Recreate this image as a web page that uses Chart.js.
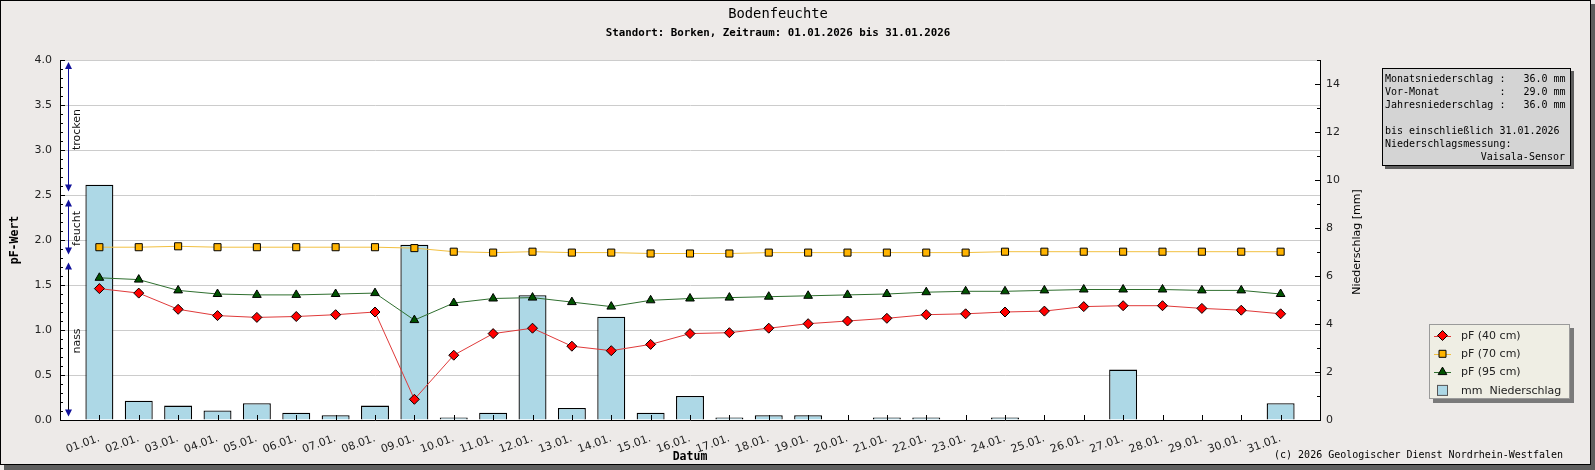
<!DOCTYPE html>
<html><head><meta charset="utf-8">
<script src="https://cdn.jsdelivr.net/npm/chart.js@4.4.1/dist/chart.umd.min.js"></script>
<style>
html,body{margin:0;padding:0;background:#EDEAE8;overflow:hidden}
#wrap{width:1595px;height:470px;position:relative}
</style>
</head><body><div id="wrap"><canvas id="c"></canvas></div>
<script>
// ---- data ----
const days = ['01.01.','02.01.','03.01.','04.01.','05.01.','06.01.','07.01.','08.01.','09.01.','10.01.',
  '11.01.','12.01.','13.01.','14.01.','15.01.','16.01.','17.01.','18.01.','19.01.','20.01.',
  '21.01.','22.01.','23.01.','24.01.','25.01.','26.01.','27.01.','28.01.','29.01.','30.01.','31.01.'];
const niederschlag = [9.8,0.8,0.6,0.4,0.7,0.3,0.2,0.6,7.3,0.1,0.3,5.2,0.5,4.3,0.3,1.0,0.1,0.2,0.2,0.0,
  0.1,0.1,0.0,0.1,0.0,0.0,2.1,0.0,0.0,0.0,0.7];
const pf40 = [1.46,1.41,1.23,1.16,1.14,1.15,1.17,1.20,0.23,0.72,0.96,1.02,0.82,0.77,0.84,0.96,0.97,1.02,1.07,1.10,
  1.13,1.17,1.18,1.20,1.21,1.26,1.27,1.27,1.24,1.22,1.18];
const pf70 = [1.92,1.92,1.93,1.92,1.92,1.92,1.92,1.92,1.91,1.87,1.86,1.87,1.86,1.86,1.85,1.85,1.85,1.86,1.86,1.86,
  1.86,1.86,1.86,1.87,1.87,1.87,1.87,1.87,1.87,1.87,1.87];
const pf95 = [1.58,1.56,1.44,1.40,1.39,1.39,1.40,1.41,1.11,1.30,1.35,1.36,1.31,1.26,1.33,1.35,1.36,1.37,1.38,1.39,
  1.40,1.42,1.43,1.43,1.44,1.45,1.45,1.45,1.44,1.44,1.40];
const seriesLabels = ['pF (40 cm)','pF (70 cm)','pF (95 cm)','mm  Niederschlag'];
const pfTicks = [0,0.5,1,1.5,2,2.5,3,3.5,4];
const mmTicks = [0,2,4,6,8,10,12,14];
const zoneNames = ['nass','feucht','trocken'];
const zoneBounds = [0,1.8,2.5,4.0];
const infoLines = ['Monatsniederschlag :   36.0 mm','Vor-Monat          :   29.0 mm','Jahresniederschlag :   36.0 mm','',
  'bis einschließlich 31.01.2026','Niederschlagsmessung:'];
const infoRight = 'Vaisala-Sensor';
const titleText = 'Bodenfeuchte';
const subtitleText = 'Standort: Borken, Zeitraum: 01.01.2026 bis 31.01.2026';
const copyrightText = '(c) 2026 Geologischer Dienst Nordrhein-Westfalen';

const BG = '#EDEAE8';
const toXY = arr => arr.map((v,i)=>({x:i+1,y:v}));

Chart.defaults.font.family = 'DejaVu Sans';
Chart.defaults.font.size = 11;
Chart.defaults.color = '#222';

function marker(ctx, style, x, y, fill) {
  ctx.save();
  ctx.fillStyle = fill; ctx.strokeStyle = '#000'; ctx.lineWidth = 1;
  ctx.beginPath();
  if (style === 'rectRot') { const r=5; ctx.moveTo(x,y-r); ctx.lineTo(x+r,y); ctx.lineTo(x,y+r); ctx.lineTo(x-r,y); ctx.closePath(); }
  else if (style === 'rect') { ctx.rect(x-3.5,y-3.5,7,7); }
  else if (style === 'triangle') { const r=5; ctx.moveTo(x,y-r); ctx.lineTo(x+0.866*r,y+0.5*r); ctx.lineTo(x-0.866*r,y+0.5*r); ctx.closePath(); }
  ctx.fill(); ctx.stroke();
  ctx.restore();
}

const decor = {
  id: 'decor',
  beforeDraw(chart) {
    const ctx = chart.ctx, a = chart.chartArea;
    ctx.save();
    ctx.fillStyle = '#5E5E5E';
    ctx.fillRect(4, 4, 1591, 466);
    ctx.fillStyle = '#000';
    ctx.fillRect(0, 0, 1591, 465);
    ctx.fillStyle = BG;
    ctx.fillRect(1, 1, 1589, 463);
    ctx.fillStyle = '#fff';
    ctx.fillRect(a.left, a.top, a.right - a.left, a.bottom - a.top);
    ctx.restore();
  },
  afterDraw(chart) {
    const ctx = chart.ctx, a = chart.chartArea;
    const ys = chart.scales.y, y1 = chart.scales.y1, xs = chart.scales.x;
    ctx.save();
    ctx.strokeStyle = '#000'; ctx.lineWidth = 1;
    for (let i = 0; i <= 40; i++) {
      const y = Math.round(ys.getPixelForValue(i / 10)) + 0.5;
      const len = i % 5 === 0 ? 5 : 3;
      ctx.beginPath(); ctx.moveTo(a.left, y); ctx.lineTo(a.left + len, y); ctx.stroke();
    }
    for (let i = 0; i <= 15; i++) {
      const y = Math.round(y1.getPixelForValue(i)) + 0.5;
      const len = i % 2 === 0 ? 5 : 3;
      ctx.beginPath(); ctx.moveTo(a.right - len, y); ctx.lineTo(a.right, y); ctx.stroke();
    }
    for (let i = 1; i <= days.length; i++) {
      const x = Math.round(xs.getPixelForValue(i)) + 0.5;
      ctx.beginPath(); ctx.moveTo(x, a.bottom); ctx.lineTo(x, a.bottom - 5); ctx.stroke();
    }
    const ax = 68.5;
    for (let i = 0; i < zoneNames.length; i++) {
      const yTop = ys.getPixelForValue(zoneBounds[i+1]) + (i === zoneNames.length-1 ? 2 : 4.5);
      const yBot = ys.getPixelForValue(zoneBounds[i]) - 3.5;
      ctx.strokeStyle = i === 0 ? '#000' : '#10109A';
      ctx.beginPath(); ctx.moveTo(ax, yTop + 3); ctx.lineTo(ax, yBot - 3); ctx.stroke();
      ctx.fillStyle = '#10109A';
      ctx.beginPath(); ctx.moveTo(ax, yTop); ctx.lineTo(ax + 3.5, yTop + 7); ctx.lineTo(ax - 3.5, yTop + 7); ctx.closePath(); ctx.fill();
      ctx.beginPath(); ctx.moveTo(ax, yBot); ctx.lineTo(ax + 3.5, yBot - 7); ctx.lineTo(ax - 3.5, yBot - 7); ctx.closePath(); ctx.fill();
      const ym = ys.getPixelForValue((zoneBounds[i] + zoneBounds[i+1]) / 2);
      ctx.save();
      ctx.translate(77, ym + 2); ctx.rotate(-Math.PI/2);
      ctx.fillStyle = '#111'; ctx.font = '11px "DejaVu Sans"';
      ctx.textAlign = 'center'; ctx.textBaseline = 'middle';
      ctx.fillText(zoneNames[i], 0, 0);
      ctx.restore();
    }
    ctx.fillStyle = '#000'; ctx.textAlign = 'center'; ctx.textBaseline = 'middle';
    ctx.font = '13.8px "DejaVu Sans Mono"';
    ctx.fillText(titleText, 778, 14);
    ctx.font = 'bold 10.8px "DejaVu Sans Mono"';
    ctx.fillText(subtitleText, 778, 33);
    ctx.font = 'bold 11.5px "DejaVu Sans Mono"';
    ctx.fillText('Datum', (a.left + a.right) / 2, 457);
    ctx.save(); ctx.translate(15, (a.top + a.bottom)/2); ctx.rotate(-Math.PI/2);
    ctx.fillText('pF-Wert', 0, 0); ctx.restore();
    ctx.font = '11px "DejaVu Sans"';
    ctx.save(); ctx.translate(1357, (a.top + a.bottom)/2 + 2); ctx.rotate(-Math.PI/2);
    ctx.fillText('Niederschlag [mm]', 0, 0); ctx.restore();
    ctx.font = '10px "DejaVu Sans Mono"'; ctx.textAlign = 'right';
    ctx.fillText(copyrightText, 1563, 455);
    ctx.fillStyle = '#5E5E5E'; ctx.fillRect(1385, 71, 189, 98);
    ctx.fillStyle = '#D4D4D4'; ctx.fillRect(1382, 68, 189, 98);
    ctx.strokeStyle = '#000'; ctx.strokeRect(1382.5, 68.5, 188, 97);
    ctx.fillStyle = '#000'; ctx.font = '10px "DejaVu Sans Mono"'; ctx.textAlign = 'left';
    infoLines.forEach((t, i) => ctx.fillText(t, 1385, 79.5 + i * 13));
    ctx.textAlign = 'right';
    ctx.fillText(infoRight, 1565, 79.5 + 6 * 13);
    ctx.fillStyle = '#7A7A7A'; ctx.fillRect(1433, 328, 141, 75);
    ctx.fillStyle = '#EFEEE4'; ctx.fillRect(1429, 324, 141, 75);
    ctx.strokeStyle = '#9A9A9A'; ctx.strokeRect(1429.5, 324.5, 140, 74);
    const ds = chart.data.datasets;
    ctx.font = '11px "DejaVu Sans"'; ctx.textAlign = 'left'; ctx.textBaseline = 'middle';
    for (let i = 0; i < 4; i++) {
      const y = 335.5 + i * 18.3;
      const d = ds[i];
      if (d.type === 'line') {
        ctx.strokeStyle = d.borderColor; ctx.lineWidth = 1;
        ctx.beginPath(); ctx.moveTo(1434, Math.round(y)+0.5); ctx.lineTo(1451, Math.round(y)+0.5); ctx.stroke();
        marker(ctx, d.pointStyle, 1442.5, y, d.pointBackgroundColor);
      } else {
        ctx.fillStyle = d.backgroundColor; ctx.fillRect(1437.5, y - 5, 10, 10);
        ctx.strokeStyle = '#555'; ctx.strokeRect(1437.5, y - 5, 10, 10);
      }
      ctx.fillStyle = '#222';
      ctx.fillText(seriesLabels[i], 1461, y + 0.5);
    }
    ctx.restore();
  }
};

new Chart(document.getElementById('c'), {
  type: 'bar',
  data: {
    datasets: [
      { type: 'line', label: seriesLabels[0], data: toXY(pf40), yAxisID: 'y', order: 1,
        borderColor: '#E03A3A', borderWidth: 1, tension: 0,
        pointStyle: 'rectRot', pointRadius: 5, pointBackgroundColor: '#FF0000', pointBorderColor: '#000', pointBorderWidth: 1 },
      { type: 'line', label: seriesLabels[1], data: toXY(pf70), yAxisID: 'y', order: 2,
        borderColor: '#F2C040', borderWidth: 1, tension: 0,
        pointStyle: 'rect', pointRadius: 5, pointBackgroundColor: '#FFB400', pointBorderColor: '#000', pointBorderWidth: 1 },
      { type: 'line', label: seriesLabels[2], data: toXY(pf95), yAxisID: 'y', order: 3,
        borderColor: '#2F6F2F', borderWidth: 1, tension: 0,
        pointStyle: 'triangle', pointRadius: 5, pointBackgroundColor: '#005200', pointBorderColor: '#000', pointBorderWidth: 1 },
      { type: 'bar', label: seriesLabels[3], data: toXY(niederschlag), yAxisID: 'y1', order: 5,
        backgroundColor: '#ADD8E6', borderColor: '#000',
        borderWidth: c => (c.raw && c.raw.y > 0 ? 1.3 : 0),
        barPercentage: 0.71, categoryPercentage: 1 }
    ]
  },
  options: {
    responsive: true, maintainAspectRatio: false, animation: false,
    layout: { padding: { top: 60, left: 0, right: 0, bottom: 0 } },
    plugins: { legend: { display: false }, tooltip: { enabled: false } },
    scales: {
      x: {
        type: 'linear', min: 0, max: days.length + 1, offset: false,
        grid: { display: false, offset: false },
        border: { display: true, color: '#000', width: 1 },
        afterBuildTicks: s => { s.ticks = days.map((_, i) => ({ value: i + 1 })); },
        ticks: { autoSkip: false, maxRotation: 20, minRotation: 20, padding: 4,
          callback: v => days[v - 1] || '', color: '#222', font: { size: 11 } },
        afterFit: s => { s.height = 50; }
      },
      y: {
        position: 'left', min: 0, max: 4,
        afterBuildTicks: s => { s.ticks = pfTicks.map(v => ({ value: v })); },
        ticks: { callback: v => v.toFixed(1), padding: 8, color: '#222' },
        grid: { color: '#CCCCCC', drawTicks: false, lineWidth: 1 },
        border: { display: true, color: '#000', width: 1 },
        afterFit: s => { s.width = 60; }
      },
      y1: {
        position: 'right', min: 0, max: 15,
        afterBuildTicks: s => { s.ticks = mmTicks.map(v => ({ value: v })); },
        ticks: { padding: 6, color: '#222' },
        grid: { display: true, drawOnChartArea: false, drawTicks: false },
        border: { display: true, color: '#000', width: 1 },
        afterFit: s => { s.width = 275; }
      }
    }
  },
  plugins: [decor]
});
</script>
</body></html>
